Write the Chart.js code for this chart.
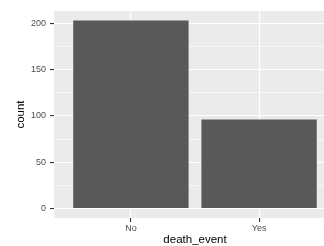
<!DOCTYPE html>
<html>
<head>
<meta charset="utf-8">
<script src="https://cdn.jsdelivr.net/npm/chart.js@4.4.0/dist/chart.umd.min.js"></script>
<style>
  html, body { margin: 0; padding: 0; background: #fff; overflow: hidden; }
  canvas { display: block; }
</style>
</head>
<body>
<canvas id="chart" width="336" height="246"></canvas>
<script>
// number of patients for each level of death_event
const categories = ["No", "Yes"];
const counts = [203, 96];
// major + minor breaks of the y axis, only the majors get a label
const yBreaks = [0, 25, 50, 75, 100, 125, 150, 175, 200];
const yLabels = [0, 50, 100, 150, 200];

const font = "'Liberation Sans', Arial, sans-serif";

// grey ggplot panel behind the grid
const panelBg = {
  id: 'panelBg',
  beforeDraw(chart) {
    const a = chart.chartArea, ctx = chart.ctx;
    ctx.save();
    ctx.fillStyle = '#EBEBEB';
    ctx.fillRect(a.left, a.top, a.right - a.left, a.bottom - a.top);
    ctx.restore();
  }
};

const isMajor = v => yLabels.indexOf(v) !== -1;

new Chart(document.getElementById('chart'), {
  type: 'bar',
  data: {
    datasets: [{
      data: categories.map((c, i) => ({ x: i, y: counts[i] })),
      backgroundColor: '#595959',
      barPercentage: 0.9,
      categoryPercentage: 1
    }]
  },
  options: {
    responsive: false,
    animation: false,
    layout: { padding: { top: 11, right: 0, bottom: 0, left: 0 } },
    plugins: { legend: { display: false }, tooltip: { enabled: false } },
    scales: {
      x: {
        type: 'linear',
        offset: false,
        min: -0.6,
        max: categories.length - 0.4,
        afterBuildTicks: s => { s.ticks = categories.map((c, i) => ({ value: i })); },
        afterFit: s => { s.height = 28; },
        border: { display: false },
        grid: { offset: false, color: '#FFFFFF', lineWidth: 1.1, tickColor: '#333333', tickLength: 4 },
        ticks: {
          callback: v => categories[v],
          color: '#4D4D4D',
          font: { family: font, size: 9 },
          padding: 1,
          maxRotation: 0,
          autoSkip: false
        },
        title: {
          display: true, text: 'death_event', color: '#000000',
          font: { family: font, size: 11.5 },
          padding: { top: 0, bottom: -1 }
        }
      },
      y: {
        min: -10.15,
        max: 213.15,
        afterBuildTicks: s => { s.ticks = yBreaks.map(v => ({ value: v })); },
        afterFit: s => { s.width = 54; },
        border: { display: false },
        grid: {
          color: '#FFFFFF',
          lineWidth: c => isMajor(c.tick.value) ? 1.1 : 0.55,
          tickColor: c => isMajor(c.tick.value) ? '#333333' : 'rgba(0,0,0,0)',
          tickLength: 4
        },
        ticks: {
          callback: v => isMajor(v) ? String(v) : '',
          color: '#4D4D4D',
          font: { family: font, size: 9 },
          padding: 4,
          autoSkip: false
        },
        title: {
          display: true, text: 'count', color: '#000000',
          font: { family: font, size: 11.5 },
          padding: { top: 14, bottom: 0 }
        }
      }
    }
  },
  plugins: [panelBg]
});
</script>
</body>
</html>
